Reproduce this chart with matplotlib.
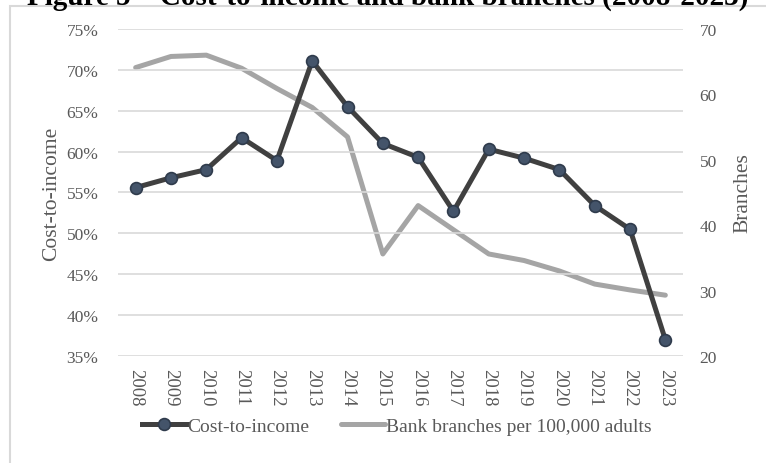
import numpy as np
import matplotlib
matplotlib.use("Agg")
import matplotlib.pyplot as plt
from matplotlib.patches import Rectangle
from matplotlib.ticker import PercentFormatter

plt.rcParams['font.family'] = ['Liberation Serif', 'DejaVu Serif']

# Annual figures
years = ['2008', '2009', '2010', '2011', '2012', '2013', '2014', '2015',
         '2016', '2017', '2018', '2019', '2020', '2021', '2022', '2023']
cost_to_income = [55.6, 56.8, 57.8, 61.7, 58.9, 71.1, 65.5, 61.0,
                  59.3, 52.7, 60.3, 59.2, 57.8, 53.4, 50.5, 37.0]
branches = [64.1, 65.8, 66.0, 64.0, 60.9, 58.0, 53.5, 35.6,
            43.0, 39.3, 35.6, 34.6, 33.0, 31.0, 30.1, 29.3]

txt = '#595959'
W, H = 766, 464
fig = plt.figure(figsize=(W / 100, H / 100), dpi=100)

# outer frame, only its top and left edges fall inside the image
fig.patches.append(Rectangle((10 / W, -0.1), 1.2, 1.1 - 7 / H, transform=fig.transFigure,
                             fill=False, edgecolor='#d9d9d9', lw=1.5))
fig.text(388 / W, 1 - 5 / H, 'Figure 5 \u2013 Cost-to-income and bank branches (2008-2023)',
         ha='center', va='baseline', fontsize=21, fontweight='bold', color='black')

ax1 = fig.add_axes([118 / W, 1 - 357 / H, 565 / W, 327 / H])
ax2 = ax1.twinx()
ax1.set_zorder(ax2.get_zorder() + 1)
ax1.patch.set_visible(False)

x = np.arange(len(years))
l2, = ax2.plot(x, branches, color='#a5a5a5', lw=3.6, solid_capstyle='round',
               label='Bank branches per 100,000 adults')
l1, = ax1.plot(x, cost_to_income, color='#404040', lw=3.6, marker='o', ms=8.5,
               mfc='#44546a', mec='#2f3b4c', mew=1.2, label='Cost-to-income')

ax1.set_xlim(-0.5, len(years) - 0.5)
ax1.set_ylim(35, 75)
ax1.set_yticks(np.arange(35, 76, 5))
ax1.yaxis.set_major_formatter(PercentFormatter(decimals=0))
ax2.set_ylim(20, 70)
ax2.set_yticks(np.arange(20, 71, 10))

ax1.grid(axis='y', color='#d9d9d9', lw=1.2)
ax1.set_axisbelow(True)
for a in (ax1, ax2):
    for s in a.spines.values():
        s.set_visible(False)
    a.tick_params(length=0, labelsize=12.5, labelcolor=txt)

ax1.set_xticks(x)
ax1.set_xticklabels(years, rotation=270, fontsize=13.5)
ax1.tick_params(axis='x', pad=9)
ax1.tick_params(axis='y', pad=14)
ax2.tick_params(axis='y', pad=12)

ax1.set_ylabel('Cost-to-income', fontsize=15.5, color=txt, labelpad=4)
ax2.set_ylabel('Branches', fontsize=15.5, color=txt, labelpad=12)

fig.legend(handles=[l1, l2], loc='center', bbox_to_anchor=(397 / W, 1 - 427 / H),
           ncol=2, frameon=False, fontsize=14, labelcolor=txt, handlelength=2.3,
           handletextpad=0.05, columnspacing=1.6)

fig.savefig('out.png', dpi=100)
